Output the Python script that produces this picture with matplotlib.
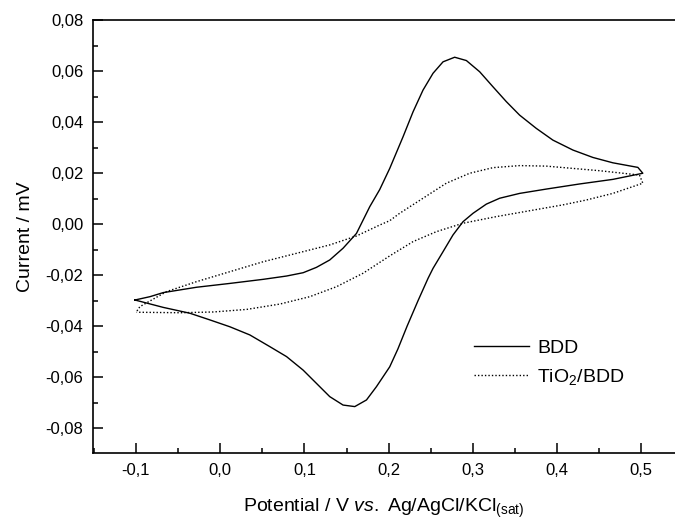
import matplotlib.pyplot as plt
import numpy as np
from matplotlib.ticker import MultipleLocator, FuncFormatter

plt.rcParams['font.family'] = ['Liberation Sans', 'DejaVu Sans']
plt.rcParams['mathtext.fontset'] = 'custom'
plt.rcParams['mathtext.rm'] = 'Liberation Sans'
plt.rcParams['mathtext.it'] = 'Liberation Sans:italic'

# BDD: forward (anodic) scan then reverse scan
bdd_e = [-0.1012, -0.0834, -0.0676, -0.0280, 0.0115, 0.0510, 0.0788, 0.0985, 0.1143, 0.1301,
         0.1459, 0.1618, 0.1776, 0.1894, 0.2013, 0.2171, 0.2290, 0.2408, 0.2527, 0.2646,
         0.2784, 0.2923, 0.3081, 0.3239, 0.3397, 0.3555, 0.3753, 0.3950, 0.4188, 0.4425,
         0.4662, 0.4959, 0.5018,
         0.4662, 0.4267, 0.3872, 0.3555, 0.3318, 0.3160, 0.3002, 0.2883, 0.2764, 0.2645,
         0.2527, 0.2468, 0.2350, 0.2220, 0.2110, 0.2013, 0.1855, 0.1737, 0.1598, 0.1459,
         0.1301, 0.1143, 0.0985, 0.0788, 0.0590, 0.0352, 0.0115, -0.0123, -0.0359, -0.0676,
         -0.1012]
bdd_i = [-0.0298, -0.0285, -0.0269, -0.0248, -0.0233, -0.0217, -0.0204, -0.0191, -0.0170, -0.0141,
         -0.0095, -0.0037, 0.0068, 0.0135, 0.0218, 0.0342, 0.0440, 0.0525, 0.0591, 0.0636,
         0.0654, 0.0641, 0.0597, 0.0538, 0.0480, 0.0427, 0.0375, 0.0329, 0.0290, 0.0261,
         0.0240, 0.0222, 0.0199,
         0.0175, 0.0157, 0.0137, 0.0120, 0.0101, 0.0078, 0.0042, 0.0009, -0.0043, -0.0109,
         -0.0174, -0.0213, -0.0300, -0.0400, -0.0490, -0.0560, -0.0638, -0.0690, -0.0716, -0.0710,
         -0.0677, -0.0625, -0.0573, -0.0520, -0.0481, -0.0435, -0.0403, -0.0376, -0.0350, -0.0327,
         -0.0298]

# TiO2/BDD
tio_e = [-0.0988, -0.0953, -0.0636, -0.0280, 0.0115, 0.0510, 0.0906, 0.1301, 0.1618, 0.1894,
         0.2013, 0.2131, 0.2408, 0.2685, 0.2962, 0.3239, 0.3555, 0.3872, 0.4188, 0.4504,
         0.4978, 0.5018,
         0.4662, 0.4346, 0.4069, 0.3674, 0.3279, 0.2883, 0.2567, 0.2290, 0.2013, 0.1697,
         0.1380, 0.1064, 0.0708, 0.0313, -0.0083, -0.0478, -0.0992]
tio_i = [-0.0341, -0.0324, -0.0265, -0.0226, -0.0187, -0.0148, -0.0115, -0.0082, -0.0047, -0.0004,
         0.0013, 0.0042, 0.0101, 0.0160, 0.0199, 0.0221, 0.0229, 0.0227, 0.0218, 0.0209,
         0.0192, 0.0160,
         0.0120, 0.0094, 0.0075, 0.0052, 0.0029, 0.0003, -0.0030, -0.0069, -0.0125, -0.0193,
         -0.0246, -0.0285, -0.0314, -0.0335, -0.0345, -0.0348, -0.0346]

fig = plt.figure(figsize=(6.75, 5.22), dpi=100)
ax = fig.add_axes([93 / 675, 69 / 522, 582 / 675, 433 / 522])

ax.plot(bdd_e, bdd_i, color='black', lw=1.0, label='BDD')
ax.plot(tio_e, tio_i, color='black', lw=1.0, linestyle=(0, (1, 1.5)), label='TiO$_2$/BDD')

ax.set_xlim(-0.151, 0.54)
ax.set_ylim(-0.0898, 0.08)
ax.spines['right'].set_visible(False)
for s in ['left', 'bottom', 'top']:
    ax.spines[s].set_linewidth(1.2)

ax.xaxis.set_major_locator(MultipleLocator(0.1))
ax.xaxis.set_minor_locator(MultipleLocator(0.05))
ax.yaxis.set_major_locator(MultipleLocator(0.02))
ax.yaxis.set_minor_locator(MultipleLocator(0.01))
ax.xaxis.set_major_formatter(FuncFormatter(lambda v, p: f'{v:.1f}'.replace('.', ',').replace('-0,0', '0,0')))
ax.yaxis.set_major_formatter(FuncFormatter(lambda v, p: f'{v:.2f}'.replace('.', ',').replace('-0,00', '0,00')))
ax.tick_params(which='both', direction='in', width=1.1, labelsize=12, top=False, right=False)
ax.tick_params(which='major', length=7, pad=7)
ax.tick_params(which='minor', length=3.5)

ax.set_xlabel('Potential / V $\\it{vs.}$ Ag/AgCl/KCl$_{\\rm (sat)}$', fontsize=14, labelpad=14)
ax.set_ylabel('Current / mV', fontsize=14, labelpad=8)

ax.legend(loc='upper left', bbox_to_anchor=(0.655, 0.262), frameon=False, fontsize=14,
          handlelength=2.8, handletextpad=0.45, labelspacing=0.5, borderpad=0, borderaxespad=0)

fig.savefig('out.png', dpi=100)
